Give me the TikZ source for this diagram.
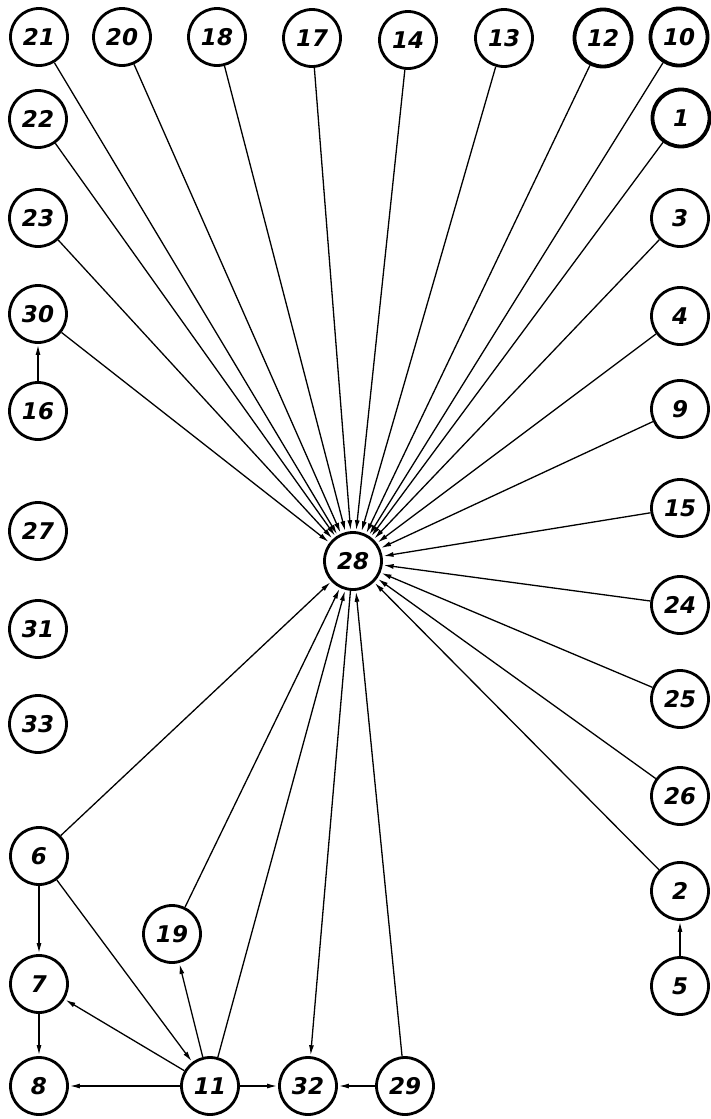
\documentclass[tikz,border=0pt]{standalone}
\usepackage{fontspec}
\setmainfont{DejaVu Sans}
\usetikzlibrary{arrows.meta}
\begin{document}
\begin{tikzpicture}[x=1pt,y=-1pt,
  nd/.style={circle,draw,line width=2.8pt,minimum size=57pt,inner sep=0pt,
    font=\fontsize{23}{23}\selectfont\bfseries\itshape},
  bold/.style={line width=3.8pt},
  ed/.style={line width=1.3pt,-{Latex[length=10pt,width=5pt]},shorten >=1pt}]
\fill[white] (0,0) rectangle (711,1119);
\useasboundingbox (0,0) rectangle (711,1119);
% top row
\node[nd] (n21) at (39,37) {21};
\node[nd] (n20) at (122,37) {20};
\node[nd] (n18) at (217,37) {18};
\node[nd] (n17) at (312,38) {17};
\node[nd] (n14) at (408,40) {14};
\node[nd] (n13) at (504,38) {13};
\node[nd,bold] (n12) at (603,38) {12};
\node[nd,bold] (n10) at (679,37) {10};
% left column
\node[nd] (n22) at (38,119) {22};
\node[nd] (n23) at (38,218) {23};
\node[nd] (n30) at (38,314) {30};
\node[nd] (n16) at (38,411) {16};
\node[nd] (n27) at (38,531) {27};
\node[nd] (n31) at (38,629) {31};
\node[nd] (n33) at (38,724) {33};
\node[nd] (n6) at (39,856) {6};
\node[nd] (n7) at (39,984) {7};
\node[nd] (n8) at (39,1086) {8};
% right column
\node[nd,bold] (n1) at (681,118) {1};
\node[nd] (n3) at (680,218) {3};
\node[nd] (n4) at (680,316) {4};
\node[nd] (n9) at (680,409) {9};
\node[nd] (n15) at (680,508) {15};
\node[nd] (n24) at (680,605) {24};
\node[nd] (n25) at (680,699) {25};
\node[nd] (n26) at (680,796) {26};
\node[nd] (n2) at (680,891) {2};
\node[nd] (n5) at (680,986) {5};
% centre and bottom
\node[nd] (n28) at (353,561) {28};
\node[nd] (n19) at (172,934) {19};
\node[nd] (n11) at (210,1086) {11};
\node[nd] (n32) at (308,1086) {32};
\node[nd] (n29) at (405,1086) {29};
% edges into 28
\foreach \s in {21,20,18,17,14,13,12,10,1,3,4,9,15,24,25,26,2,22,23,30,6,19,11,29}
  \draw[ed] (n\s) -- (n28);
\draw[ed] (n28) -- (n32);
\draw[ed] (n16) -- (n30);
\draw[ed] (n5) -- (n2);
\draw[ed] (n6) -- (n7);
\draw[ed] (n7) -- (n8);
\draw[ed] (n6) -- (n11);
\draw[ed] (n11) -- (n7);
\draw[ed] (n11) -- (n8);
\draw[ed] (n11) -- (n19);
\draw[ed] (n11) -- (n32);
\draw[ed] (n29) -- (n32);
\end{tikzpicture}
\end{document}
